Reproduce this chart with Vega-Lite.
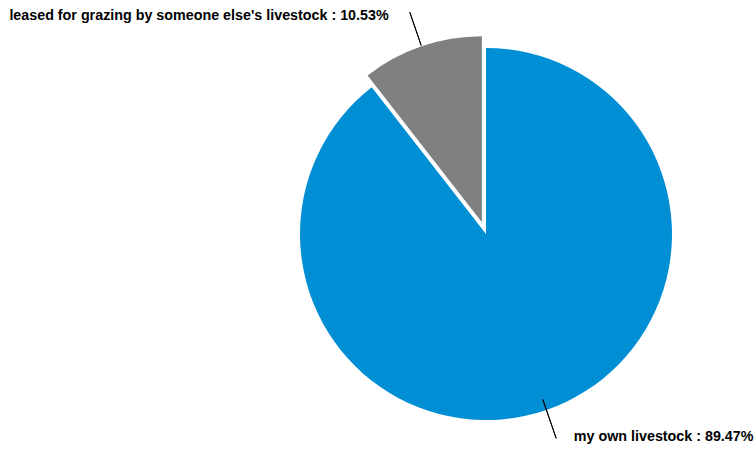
{
  "$schema": "https://vega.github.io/schema/vega-lite/v6.json",
  "width": 372,
  "height": 372,
  "autosize": {"type": "none"},
  "padding": {"left": 300, "top": 48, "right": 82, "bottom": 32},
  "background": "white",
  "view": {"stroke": null},
  "data": {
    "values": [
      {"category": "my own livestock", "value": 89.47, "label": "my own livestock : 89.47%"},
      {"category": "leased for grazing by someone else's livestock", "value": 10.53, "label": "leased for grazing by someone else's livestock : 10.53%"}
    ]
  },
  "transform": [
    {"stack": "value", "groupby": [], "as": ["start", "end"], "sort": [{"field": "value", "order": "descending"}]}
  ],
  "layer": [
    {
      "transform": [{"filter": "datum.value > 50"}],
      "mark": {"type": "arc", "radius": 186, "fill": "#008fd5"},
      "encoding": {
        "theta": {"field": "start", "type": "quantitative", "scale": {"domain": [0, 100]}},
        "theta2": {"field": "end"}
      }
    },
    {
      "transform": [{"filter": "datum.value < 50"}],
      "mark": {"type": "arc", "radius": 186, "fill": "#808080", "xOffset": -4.1, "yOffset": -11.8},
      "encoding": {
        "theta": {"field": "start", "type": "quantitative", "scale": {"domain": [0, 100]}},
        "theta2": {"field": "end"}
      }
    },
    {
      "transform": [
        {"filter": "datum.value < 50"},
        {"fold": ["start", "end"], "as": ["k", "v"]},
        {"aggregate": [{"op": "mean", "field": "v", "as": "mid"}], "groupby": ["label"]}
      ],
      "mark": {"type": "arc", "radius": 222, "radius2": 187, "fill": "transparent", "stroke": "black", "strokeWidth": 1, "xOffset": -4.1, "yOffset": -11.8},
      "encoding": {
        "theta": {"field": "mid", "type": "quantitative", "scale": {"domain": [0, 100]}},
        "theta2": {"field": "mid"}
      }
    },
    {
      "transform": [
        {"filter": "datum.value > 50"},
        {"fold": ["start", "end"], "as": ["k", "v"]},
        {"aggregate": [{"op": "mean", "field": "v", "as": "mid"}], "groupby": ["label"]}
      ],
      "mark": {"type": "arc", "radius": 216, "radius2": 175, "fill": "transparent", "stroke": "black", "strokeWidth": 1},
      "encoding": {
        "theta": {"field": "mid", "type": "quantitative", "scale": {"domain": [0, 100]}},
        "theta2": {"field": "mid"}
      }
    },
    {
      "transform": [
        {"filter": "datum.value < 50"},
        {"fold": ["start", "end"], "as": ["k", "v"]},
        {"aggregate": [{"op": "mean", "field": "v", "as": "mid"}], "groupby": ["label"]}
      ],
      "mark": {"type": "text", "radius": 232, "align": "right", "baseline": "middle", "dx": -22, "dy": 1, "font": "Liberation Sans", "fontWeight": "bold", "fontSize": 14.3, "color": "black"},
      "encoding": {
        "theta": {"field": "mid", "type": "quantitative", "scale": {"domain": [0, 100]}},
        "text": {"field": "label"}
      }
    },
    {
      "transform": [
        {"filter": "datum.value > 50"},
        {"fold": ["start", "end"], "as": ["k", "v"]},
        {"aggregate": [{"op": "mean", "field": "v", "as": "mid"}], "groupby": ["label"]}
      ],
      "mark": {"type": "text", "radius": 215, "align": "left", "baseline": "middle", "dx": 18, "font": "Liberation Sans", "fontWeight": "bold", "fontSize": 14.3, "color": "black"},
      "encoding": {
        "theta": {"field": "mid", "type": "quantitative", "scale": {"domain": [0, 100]}},
        "text": {"field": "label"}
      }
    }
  ]
}
